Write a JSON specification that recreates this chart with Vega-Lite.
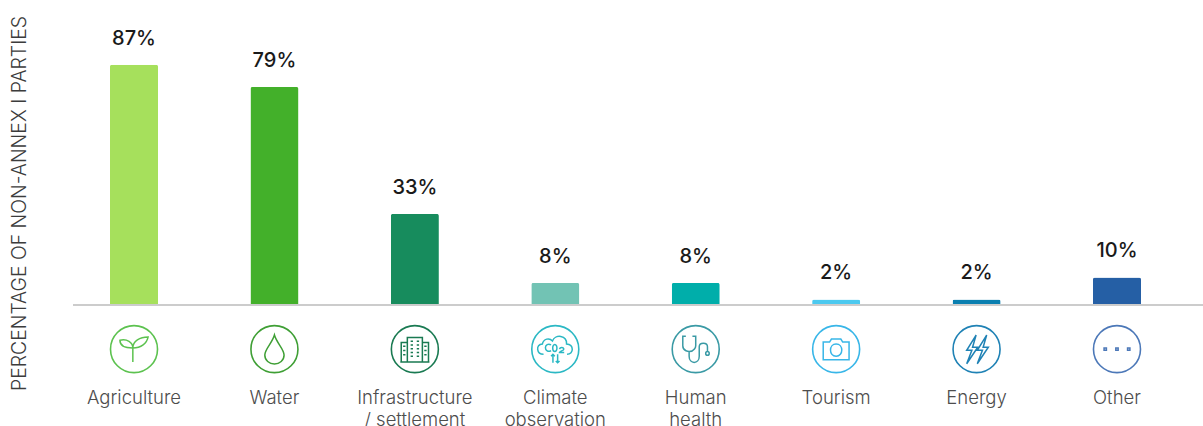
{
  "$schema": "https://vega.github.io/schema/vega-lite/v6.json",
  "autosize": "none",
  "padding": {"left": 73, "top": 0, "right": 0, "bottom": 121},
  "width": 1130,
  "height": 305,
  "background": "white",
  "data": {"values": [
    {"category": "Agriculture", "share": 0.87},
    {"category": "Water", "share": 0.79},
    {"category": "Infrastructure|/ settlement", "share": 0.33},
    {"category": "Climate|observation", "share": 0.08},
    {"category": "Human|health", "share": 0.08},
    {"category": "Tourism", "share": 0.02},
    {"category": "Energy", "share": 0.02},
    {"category": "Other", "share": 0.10}
  ]},
  "encoding": {
    "x": {
      "field": "category", "type": "nominal", "sort": null,
      "scale": {"range": [-9.2, 1114.2], "paddingInner": 0.658, "paddingOuter": 0.329},
      "axis": {
        "title": null, "domain": false, "ticks": false, "labelAngle": 0,
        "labelPadding": 83, "labelFont": "Inter", "labelFontSize": 18.5, "labelFontWeight": 300,
        "labelColor": "#4d4d4d", "labelLineHeight": 22, "labelOverlap": false,
        "labelExpr": "split(datum.label, '|')"
      }
    }
  },
  "layer": [
    {
      "mark": {"type": "bar", "cornerRadiusTopLeft": 2, "cornerRadiusTopRight": 2},
      "encoding": {
        "y": {
          "field": "share", "type": "quantitative",
          "scale": {"domain": [0, 1.105], "nice": false, "zero": false},
          "axis": {
            "title": "PERCENTAGE OF NON-ANNEX I PARTIES", "domain": false, "ticks": false, "labels": false, "grid": false,
            "titleFont": "Inter", "titleFontSize": 19.4, "titleFontWeight": 300, "titleColor": "#3c3c3c",
            "titleX": -44, "titleY": 203
          }
        },
        "fill": {
          "field": "category", "type": "nominal", "sort": null, "legend": null,
          "scale": {"range": ["#a6e05c", "#43b02a", "#178c5d", "#72c3b4", "#00aeaa", "#4cc9ef", "#0a7fb0", "#255fa5"]}
        }
      }
    },
    {
      "mark": {"type": "rule", "color": "#cccccc", "strokeWidth": 2},
      "encoding": {"x": {"value": 0}, "x2": {"value": 1130}, "y": {"datum": 0}}
    },
    {
      "mark": {"type": "text", "baseline": "middle", "dy": -26, "font": "Inter", "fontSize": 20, "fontWeight": 500, "color": "#1a1a1a"},
      "encoding": {
        "y": {"field": "share", "type": "quantitative"},
        "text": {"field": "share", "type": "quantitative", "format": ".0%"}
      }
    },
    {
      "mark": {"type": "point", "filled": false, "shape": "circle", "size": 2209, "strokeWidth": 1.6, "opacity": 1},
      "encoding": {
        "y": {"datum": -0.16},
        "stroke": {
          "field": "category", "type": "nominal", "sort": null, "legend": null,
          "scale": {"range": ["#5cc24f", "#3f9f35", "#1a7a52", "#2bb8c4", "#3a9aa5", "#38b6e8", "#1f82b5", "#4c78b8"]}
        }
      }
    },
    {
      "mark": {"type": "point", "filled": false, "size": 2209, "strokeWidth": 1.5, "opacity": 1},
      "encoding": {
        "y": {"datum": -0.16},
        "stroke": {"field": "category", "type": "nominal", "sort": null, "legend": null},
        "shape": {
          "field": "category", "type": "nominal", "sort": null, "legend": null,
          "scale": {"range": [
            "M-0.05,0.55 L-0.05,-0.05 C-0.45,-0.05 -0.6,-0.2 -0.6,-0.38 C-0.3,-0.45 -0.05,-0.3 -0.05,-0.05 C0.3,-0.05 0.55,-0.25 0.6,-0.52 C0.25,-0.52 -0.05,-0.35 -0.05,-0.05",
            "M0,-0.6 C0.1,-0.25 0.41,0 0.41,0.25 C0.41,0.48 0.22,0.63 0,0.63 C-0.22,0.63 -0.41,0.48 -0.41,0.25 C-0.41,0 -0.1,-0.25 0,-0.6 Z",
            "M-0.62,0.55 H0.62 M-0.32,0.55 V-0.5 H0.32 V0.55 M-0.32,-0.28 H-0.58 V0.55 M0.32,-0.28 H0.58 V0.55 M-0.18,-0.34 H-0.08 M0.08,-0.34 H0.18 M-0.18,-0.18 H-0.08 M0.08,-0.18 H0.18 M-0.18,-0.02 H-0.08 M0.08,-0.02 H0.18 M-0.18,0.14 H-0.08 M0.08,0.14 H0.18 M-0.18,0.3 H-0.08 M0.08,0.3 H0.18 M-0.5,-0.12 H-0.4 M0.4,-0.12 H0.5 M-0.5,0.06 H-0.4 M0.4,0.06 H0.5 M-0.5,0.24 H-0.4 M0.4,0.24 H0.5",
            "M-0.5,0.22 C-0.8,0.22 -0.85,-0.2 -0.55,-0.22 C-0.5,-0.45 -0.25,-0.5 -0.12,-0.35 C0,-0.65 0.5,-0.6 0.48,-0.22 C0.8,-0.2 0.8,0.22 0.5,0.22 M-0.18,-0.18 C-0.3,-0.26 -0.42,-0.18 -0.42,-0.06 C-0.42,0.06 -0.3,0.14 -0.18,0.06 M-0.02,-0.2 C-0.14,-0.2 -0.14,0.1 -0.02,0.1 C0.1,0.1 0.1,-0.2 -0.02,-0.2 Z M0.18,0 C0.2,-0.1 0.36,-0.1 0.36,0 C0.36,0.06 0.2,0.08 0.18,0.14 H0.38 M-0.1,0.58 V0.22 M-0.18,0.3 L-0.1,0.22 L-0.02,0.3 M0.1,0.22 V0.58 M0.02,0.5 L0.1,0.58 L0.18,0.5",
            "M-0.42,-0.55 H-0.55 V-0.15 C-0.55,0.1 -0.28,0.1 -0.28,0.1 C-0.05,0.1 0,-0.1 0,-0.15 V-0.55 H-0.14 M-0.28,0.1 V0.3 C-0.28,0.65 0.15,0.65 0.15,0.3 V-0.1 C0.15,-0.3 0.5,-0.3 0.5,-0.1 V0.1 M0.5,0.1 C0.6,0.1 0.6,0.26 0.5,0.26 C0.4,0.26 0.4,0.1 0.5,0.1 Z",
            "M-0.55,-0.3 H-0.28 L-0.2,-0.43 H0.2 L0.28,-0.3 H0.55 V0.45 H-0.55 Z M0,-0.22 C0.32,-0.22 0.32,0.3 0,0.3 C-0.32,0.3 -0.32,-0.22 0,-0.22 Z",
            "M-0.02,-0.6 L-0.42,0.05 H-0.2 L-0.42,0.62 L0.05,-0.08 H-0.17 Z M0.43,-0.6 L0.03,0.05 H0.25 L0.03,0.62 L0.5,-0.08 H0.28 Z",
            "M-0.55,-0.05 H-0.45 V0.05 H-0.55 Z M-0.05,-0.05 H0.05 V0.05 H-0.05 Z M0.45,-0.05 H0.55 V0.05 H0.45 Z"
          ]}
        }
      }
    }
  ],
  "config": {"view": {"stroke": null}}
}
